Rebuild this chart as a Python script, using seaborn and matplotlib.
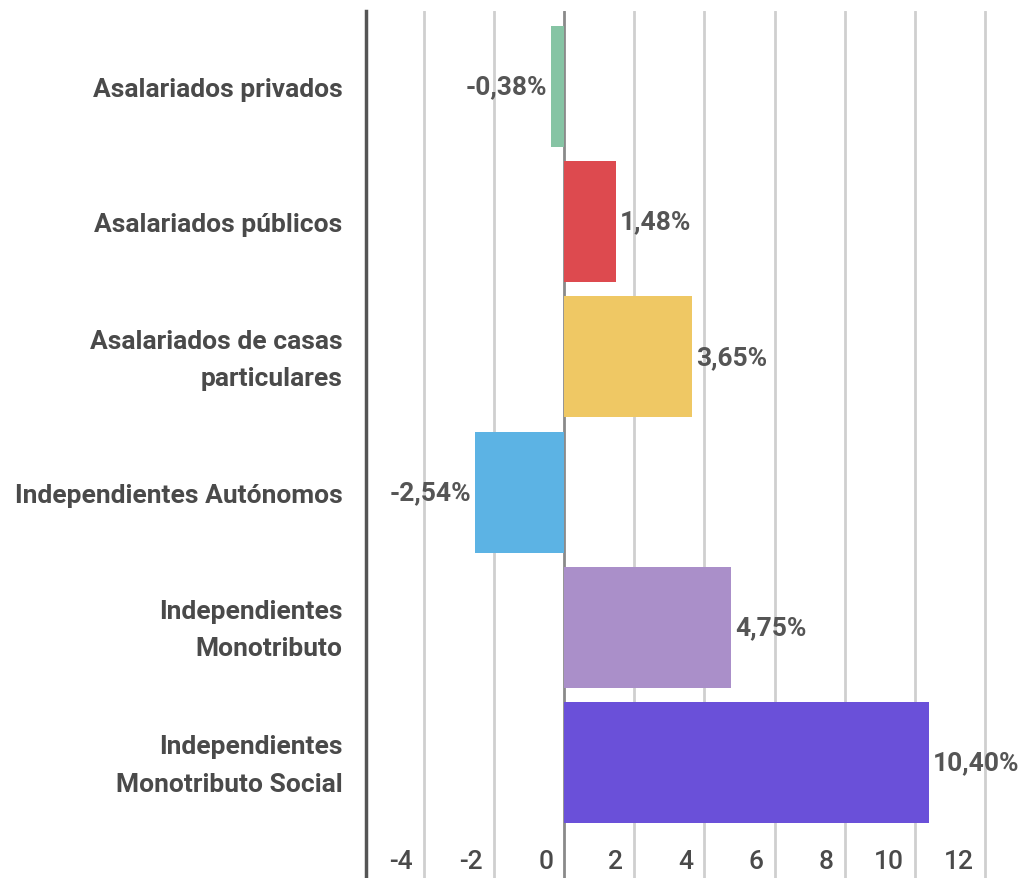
import matplotlib
matplotlib.use("Agg")
import matplotlib.pyplot as plt
import matplotlib.transforms as mtransforms
import seaborn as sns
import pandas as pd

# ----------------------------
# DATA
# ----------------------------
categories = [
    "Asalariados privados",
    "Asalariados públicos",
    "Asalariados de casas\nparticulares",
    "Independientes Autónomos",
    "Independientes\nMonotributo",
    "Independientes\nMonotributo Social",
]
values = [-0.38, 1.48, 3.65, -2.54, 4.75, 10.40]
colors = ["#86c4a4", "#dd4a4f", "#efc864", "#5cb3e4", "#aa8fc9", "#6a50d9"]
xticks = [-4, -2, 0, 2, 4, 6, 8, 10, 12]

df = pd.DataFrame({"categoria": categories, "valor": values})
labels = [f"{v:.2f}".replace(".", ",") + "%" for v in values]

# ----------------------------
# PLOT
# ----------------------------
sns.set_theme(style="white")
plt.rcParams["font.family"] = ["Roboto", "DejaVu Sans"]

fig = plt.figure(figsize=(10.26, 8.79), dpi=100)
ax = fig.add_axes([366 / 1026, 0.0, 634 / 1026, 1 - 12 / 879])

sns.barplot(data=df, x="valor", y="categoria", hue="categoria",
            palette=colors, orient="h", width=0.894, legend=False,
            saturation=1, linewidth=0, ax=ax)

ax.set_xlim(-5.65, 12.43)
ax.set_ylim(5.854, -0.558)

# gridlines
for t in xticks:
    ax.axvline(t, color="#8a8a8a" if t == 0 else "#cfcfcf",
               lw=2, zorder=0)

ax.set_xticks(xticks)
ax.set_xticklabels([str(t) for t in xticks])
ax.tick_params(axis="x", length=0, pad=-21, labelsize=19,
               labelcolor="#4a4a4a")
offset = mtransforms.ScaledTranslation(-0.11, 0, fig.dpi_scale_trans)
for lbl in ax.get_xticklabels():
    lbl.set_horizontalalignment("right")
    lbl.set_transform(lbl.get_transform() + offset)
    lbl.set_fontweight("medium")

ax.tick_params(axis="y", length=0, pad=17, labelsize=19,
               labelcolor="#4a4a4a")
down = mtransforms.ScaledTranslation(0, -0.025, fig.dpi_scale_trans)
for lbl in ax.get_yticklabels():
    lbl.set_fontweight("bold")
    lbl.set_linespacing(1.7)
    lbl.set_verticalalignment("center")
    lbl.set_transform(lbl.get_transform() + down)

ax.set_xlabel("")
ax.set_ylabel("")

for side in ["top", "right", "bottom"]:
    ax.spines[side].set_visible(False)
ax.spines["left"].set_color("#555555")
ax.spines["left"].set_linewidth(2.5)

for container, lab in zip(ax.containers, labels):
    txts = ax.bar_label(container, labels=[lab], padding=3, fontsize=19,
                        color="#555555", fontweight="bold")
    for t in txts:
        t.set_transform(t.get_transform() + down)

fig.savefig("out.png", dpi=100)
